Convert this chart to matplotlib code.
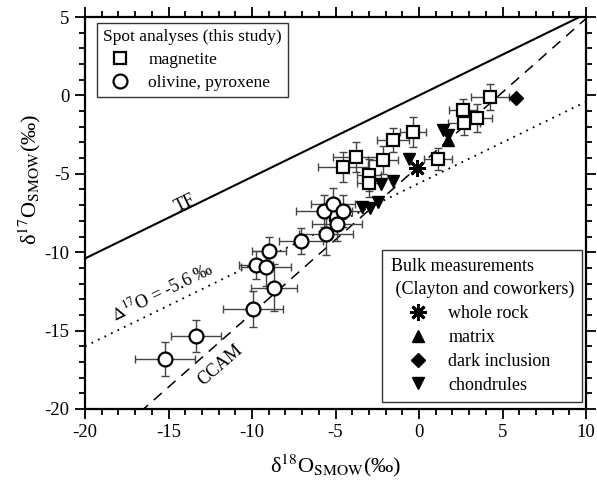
import numpy as np
import matplotlib
matplotlib.use("Agg")
import matplotlib.pyplot as plt
from matplotlib.ticker import MultipleLocator

plt.rcParams['font.family'] = ['Liberation Serif', 'DejaVu Serif']
plt.rcParams['mathtext.fontset'] = 'stix'
plt.rcParams['axes.unicode_minus'] = False

# spot analyses (this study)
mag_x = [-4.55, -3.77, -3.0, -3.0, -2.16, -1.56, -0.36, 1.14, 2.7, 3.47, 2.64, 4.25, -5.0]
mag_y = [-4.57, -3.93, -5.08, -5.6, -4.12, -2.84, -2.33, -4.06, -1.76, -1.44, -0.93, -0.1, -7.6]
mag_xerr = [1.5, 1.4, 0.7, 0.7, 0.9, 0.95, 0.75, 0.85, 0.95, 0.9, 0.85, 1.15, 0.5]
mag_yerr = [0.95, 0.95, 1.0, 0.9, 0.9, 0.75, 0.95, 0.7, 0.75, 0.9, 0.7, 0.8, 0.5]

oli_x = [-15.2, -13.35, -9.94, -8.68, -9.76, -9.16, -8.98, -7.07, -5.57, -5.69, -5.15, -4.55, -4.9]
oli_y = [-16.8, -15.35, -13.62, -12.28, -10.82, -10.94, -9.92, -9.29, -8.84, -7.37, -6.93, -7.37, -8.2]
oli_xerr = [1.8, 1.5, 1.8, 1.4, 1.0, 1.5, 1.0, 1.3, 1.6, 1.7, 1.3, 1.2, 1.5]
oli_yerr = [1.1, 1.0, 1.15, 1.5, 0.9, 1.2, 0.9, 0.85, 1.35, 1.0, 1.0, 1.0, 1.1]

# bulk measurements (Clayton and coworkers)
wr_x, wr_y = [-0.1], [-4.6]
mat_x, mat_y = [1.75], [-2.85]
dark_x, dark_y = [5.8], [-0.17]
chon_x = [1.45, 1.75, -0.6, -2.28, -1.56, -3.4, -2.93, -2.46]
chon_y = [-2.2, -2.5, -4.06, -5.65, -5.46, -7.1, -7.2, -6.8]

# reference lines
tf_slope, tf_int = 0.52, 0.0
d17_slope, d17_int = 0.52, -5.6
ccam_slope, ccam_int = 0.94, -4.5

fig = plt.figure(figsize=(5.97, 4.82), dpi=100)
ax = fig.add_axes([0.1424, 0.1515, 0.8392, 0.8132])

xl = np.array([-20, 10])
ax.plot(xl, tf_slope * xl + tf_int, color='black', lw=1.5, zorder=2)
ax.plot(xl, d17_slope * xl + d17_int, color='black', lw=1.3, ls=(0, (1, 3)), zorder=2)
ax.plot(xl, ccam_slope * xl + ccam_int, color='black', lw=1.1, ls=(0, (7, 5)), zorder=2)

eb = dict(fmt='none', ecolor='#444444', elinewidth=1.0, capsize=3, capthick=1.0, zorder=3)
ax.errorbar(mag_x, mag_y, xerr=mag_xerr, yerr=mag_yerr, **eb)
ax.errorbar(oli_x, oli_y, xerr=oli_xerr, yerr=oli_yerr, **eb)

h_mag, = ax.plot(mag_x, mag_y, 's', ms=8.5, mfc='white', mec='black', mew=1.6, ls='none', zorder=4, label='magnetite')
h_oli, = ax.plot(oli_x, oli_y, 'o', ms=10, mfc='white', mec='black', mew=1.6, ls='none', zorder=4, label='olivine, pyroxene')

h_wr, = ax.plot(wr_x, wr_y, marker=(8, 2, 0), ms=12, mec='black', mew=2.0, ls='none', zorder=5, label='whole rock')
h_mat, = ax.plot(mat_x, mat_y, '^', ms=9, color='black', ls='none', zorder=5, label='matrix')
h_dark, = ax.plot(dark_x, dark_y, 'D', ms=7, color='black', ls='none', zorder=5, label='dark inclusion')
h_chon, = ax.plot(chon_x, chon_y, 'v', ms=9, color='black', ls='none', zorder=5, label='chondrules')

ax.text(-14.0, -6.9, 'TF', rotation=26, fontsize=13, ha='center', va='center')
ax.text(-15.4, -12.5, r'$\Delta^{17}$O = -5.6 ‰', rotation=26, fontsize=13, ha='center', va='center')
ax.text(-11.9, -17.2, 'CCAM', rotation=41, fontsize=13, ha='center', va='center')

ax.set_xlim(-20, 10)
ax.set_ylim(-20, 5)
ax.xaxis.set_major_locator(MultipleLocator(5))
ax.xaxis.set_minor_locator(MultipleLocator(1))
ax.yaxis.set_major_locator(MultipleLocator(5))
ax.yaxis.set_minor_locator(MultipleLocator(1))
ax.tick_params(which='both', direction='out', top=True, right=True, labeltop=False, labelright=False, width=1.3)
ax.tick_params(which='major', length=7, labelsize=13.5, pad=4)
ax.tick_params(which='minor', length=4)
for s in ax.spines.values():
    s.set_linewidth(1.6)

ax.set_xlabel('δ$^{18}$O$_{\\mathrm{SMOW}}$(‰)', fontsize=16, va='center')
ax.xaxis.set_label_coords(0.5, -0.145)
ax.set_ylabel('δ$^{17}$O$_{\\mathrm{SMOW}}$(‰)', fontsize=16, va='center')
ax.yaxis.set_label_coords(-0.11, 0.585)

leg1 = ax.legend(handles=[h_mag, h_oli], title='Spot analyses (this study)', loc='upper left',
                 bbox_to_anchor=(0.024, 0.985), fontsize=12.5, title_fontsize=12.5, frameon=True,
                 fancybox=False, edgecolor='black', handlelength=2.0, handletextpad=0.6,
                 borderpad=0.35, labelspacing=0.4, borderaxespad=0)
leg1._legend_box.align = 'left'
leg1.get_frame().set_linewidth(1.0)
ax.add_artist(leg1)

leg2 = ax.legend(handles=[h_wr, h_mat, h_dark, h_chon], title='Bulk measurements\n (Clayton and coworkers)',
                 loc='lower right', bbox_to_anchor=(0.992, 0.018), fontsize=13, title_fontsize=13,
                 frameon=True, fancybox=False, edgecolor='black', handlelength=3.0, handletextpad=0.2,
                 borderpad=0.45, labelspacing=0.38, borderaxespad=0)
leg2._legend_box.align = 'left'
leg2.get_title().set_linespacing(1.45)
leg2.get_frame().set_linewidth(1.0)

fig.savefig('out.png', dpi=100)
